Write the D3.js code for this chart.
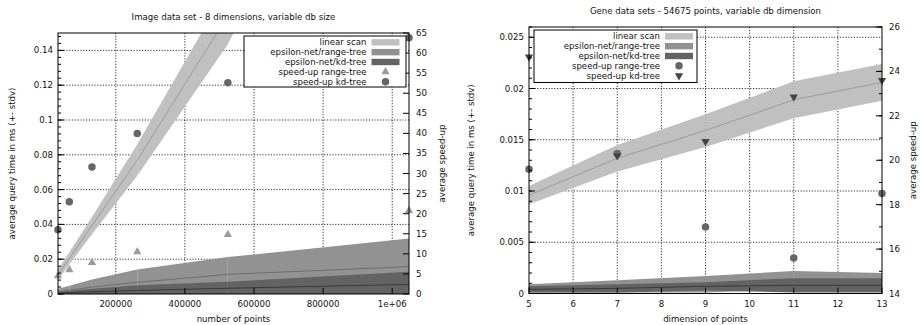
<!DOCTYPE html>
<html>
<head>
<meta charset="utf-8">
<script src="https://cdn.jsdelivr.net/npm/d3@7"></script>
<style>
  body { margin: 0; background: #fff; }
  text { font-family: "DejaVu Sans", sans-serif; fill: #111; }
</style>
</head>
<body>
<script>
// ---- left chart: image data set, variable db size ----
var imgSizes       = [32768, 65536, 131072, 262144, 524288, 1048576];
var imgLinearMean  = [0.011, 0.0205, 0.0393, 0.077, 0.16, 0.38];
var imgLinearStd   = [0.003, 0.0035, 0.005, 0.009, 0.0164, 0.03];
var imgRangeMean   = [0.0012, 0.0022, 0.0040, 0.0067, 0.0113, 0.0157];
var imgRangeStd    = [0.0018, 0.0026, 0.0044, 0.0074, 0.0099, 0.0162];
var imgKdMean      = [0.0005, 0.0008, 0.0013, 0.0020, 0.0033, 0.0055];
var imgKdStd       = [0.0007, 0.0010, 0.0017, 0.0030, 0.0037, 0.0073];
var imgSpeedRange  = [4.5, 6.0, 7.8, 10.5, 14.8, 20.8];
var imgSpeedKd     = [16.0, 23.0, 31.6, 40.0, 52.6, 63.8];
var imgXTicks      = [200000, 400000, 600000, 800000, 1000000];
var imgXTickLabels = ["200000", "400000", "600000", "800000", "1e+06"];

// ---- right chart: gene data sets, variable dimension ----
var geneDims       = [5, 7, 9, 11, 13];
var geneLinearMean = [0.0096, 0.0132, 0.0159, 0.0189, 0.0206];
var geneLinearStd  = [0.0009, 0.0013, 0.0016, 0.0018, 0.0018];
var geneRangeMean  = [0.0005, 0.0007, 0.0009, 0.0013, 0.0013];
var geneRangeStd   = [0.0004, 0.0006, 0.0008, 0.0009, 0.0007];
var geneKdMean     = [0.0004, 0.0005, 0.0007, 0.0008, 0.0008];
var geneKdStd      = [0.0003, 0.0004, 0.0004, 0.0007, 0.0007];
var geneSpeedRange = [19.6, 20.3, 17.0, 15.6, 18.5];
var geneSpeedKd    = [24.65, 20.2, 20.85, 22.85, 23.6];

var legendNames = ["linear scan", "epsilon-net/range-tree", "epsilon-net/kd-tree",
                   "speed-up range-tree", "speed-up kd-tree"];

var FS = 8.6;
var svg = d3.select("body").append("svg").attr("width", 921).attr("height", 325);

function fmtY(d) { return d === 0 ? "0" : String(+d.toFixed(4)); }

function drawChart(c) {
  var x = d3.scaleLinear().domain(c.xDomain).range([c.left, c.right]);
  var y = d3.scaleLinear().domain(c.yDomain).range([c.bottom, c.top]);
  var y2 = d3.scaleLinear().domain(c.y2Domain).range([c.bottom, c.top]);
  var g = svg.append("g");

  g.append("clipPath").attr("id", "clip" + c.id)
    .append("rect").attr("x", c.left).attr("y", c.top)
    .attr("width", c.right - c.left).attr("height", c.bottom - c.top);

  // grid
  var grid = g.append("g").attr("stroke", "#000").attr("stroke-width", 0.8)
    .attr("stroke-dasharray", "1.2,1.6");
  c.xGrid.forEach(function(v) {
    grid.append("line").attr("x1", x(v)).attr("x2", x(v)).attr("y1", c.top).attr("y2", c.bottom);
  });
  c.yTicks.forEach(function(v) {
    if (v <= c.yDomain[0]) return;
    grid.append("line").attr("x1", c.left).attr("x2", c.right).attr("y1", y(v)).attr("y2", y(v));
  });

  // bands (drawn per segment, like the original fill)
  var plot = g.append("g").attr("clip-path", "url(#clip" + c.id + ")");
  c.bands.forEach(function(b) {
    var pts = c.xs.map(function(xv, i) {
      return { x: xv, lo: Math.max(0, b.mean[i] - b.std[i]), hi: b.mean[i] + b.std[i], m: b.mean[i] };
    });
    var area = d3.area().x(function(d) { return x(d.x); })
      .y0(function(d) { return y(d.lo); }).y1(function(d) { return y(d.hi); });
    for (var i = 0; i < pts.length - 1; i++) {
      plot.append("path").attr("d", area([pts[i], pts[i + 1]])).attr("fill", b.fill);
    }
    plot.append("path")
      .attr("d", d3.line().x(function(d) { return x(d.x); }).y(function(d) { return y(d.m); })(pts))
      .attr("fill", "none").attr("stroke", b.line).attr("stroke-width", 1);
  });

  // speed-up markers on y2
  c.markers.forEach(function(m) {
    var sym = d3.symbol().type(m.shape === "circle" ? d3.symbolCircle : d3.symbolTriangle)
      .size(m.shape === "circle" ? 44 : 30);
    c.xs.forEach(function(xv, i) {
      var rot = m.down ? " rotate(180)" : "";
      g.append("path").attr("d", sym())
        .attr("transform", "translate(" + x(xv) + "," + y2(m.values[i]) + ")" + rot)
        .attr("fill", m.fill);
    });
  });

  // frame
  g.append("rect").attr("x", c.left).attr("y", c.top)
    .attr("width", c.right - c.left).attr("height", c.bottom - c.top)
    .attr("fill", "none").attr("stroke", "#000").attr("stroke-width", 1);

  // ticks
  var tk = g.append("g").attr("stroke", "#000").attr("stroke-width", 1);
  c.yMinor.forEach(function(v) {
    tk.append("line").attr("x1", c.left).attr("x2", c.left + 3).attr("y1", y(v)).attr("y2", y(v));
  });
  c.yTicks.forEach(function(v) {
    tk.append("line").attr("x1", c.left).attr("x2", c.left + 6).attr("y1", y(v)).attr("y2", y(v));
    g.append("text").attr("x", c.left - 5).attr("y", y(v) + 3).attr("text-anchor", "end")
      .attr("font-size", FS).text(fmtY(v));
  });
  c.y2Minor.forEach(function(v) {
    tk.append("line").attr("x1", c.right).attr("x2", c.right - 3).attr("y1", y2(v)).attr("y2", y2(v));
  });
  c.y2Ticks.forEach(function(v) {
    tk.append("line").attr("x1", c.right).attr("x2", c.right - 6).attr("y1", y2(v)).attr("y2", y2(v));
    g.append("text").attr("x", c.right + 7).attr("y", y2(v) + 3).attr("font-size", FS).text(v);
  });
  c.xTicks.forEach(function(v, i) {
    tk.append("line").attr("x1", x(v)).attr("x2", x(v)).attr("y1", c.bottom).attr("y2", c.bottom - 6);
    g.append("text").attr("x", x(v)).attr("y", c.bottom + 13).attr("text-anchor", "middle")
      .attr("font-size", FS).text(c.xTickLabels[i]);
  });

  // titles and axis labels
  var cx = (c.left + c.right) / 2, cy = (c.top + c.bottom) / 2;
  g.append("text").attr("x", cx).attr("y", c.top - 13).attr("text-anchor", "middle")
    .attr("font-size", FS).text(c.title);
  g.append("text").attr("x", cx).attr("y", c.bottom + 28).attr("text-anchor", "middle")
    .attr("font-size", FS).text(c.xLabel);
  g.append("text").attr("transform", "translate(" + c.yLabelX + "," + cy + ") rotate(-90)")
    .attr("text-anchor", "middle").attr("font-size", FS).text("average query time in ms (+- stdv)");
  g.append("text").attr("transform", "translate(" + c.y2LabelX + "," + cy + ") rotate(-90)")
    .attr("text-anchor", "middle").attr("font-size", FS).text("average speed-up");

  // legend
  var L = c.legend;
  g.append("rect").attr("x", L.x0).attr("y", L.y0).attr("width", L.x1 - L.x0).attr("height", L.y1 - L.y0)
    .attr("fill", "#fff").attr("stroke", "#000").attr("stroke-width", 1);
  legendNames.forEach(function(name, i) {
    var ry = L.y0 + 6.3 + i * 9.85;
    g.append("text").attr("x", L.textX).attr("y", ry + 3).attr("text-anchor", "end")
      .attr("font-size", FS).text(name);
    if (i < 3) {
      g.append("rect").attr("x", L.textX + 5).attr("y", ry - 3.2).attr("width", 28).attr("height", 6.4)
        .attr("fill", c.bands[i].fill);
    } else {
      var m = c.markers[i - 3];
      var sym = d3.symbol().type(m.shape === "circle" ? d3.symbolCircle : d3.symbolTriangle)
        .size(m.shape === "circle" ? 44 : 30);
      g.append("path").attr("d", sym())
        .attr("transform", "translate(" + (L.textX + 19) + "," + ry + ")" + (m.down ? " rotate(180)" : ""))
        .attr("fill", m.fill);
    }
  });
}

function range(a, b, s) { return d3.range(a, b + s / 2, s).map(function(v) { return +v.toFixed(6); }); }

drawChart({
  id: "L", left: 58, right: 409, top: 33, bottom: 294,
  xDomain: [32768, 1048576], yDomain: [0, 0.15], y2Domain: [0, 65],
  xs: imgSizes,
  xTicks: imgXTicks, xTickLabels: imgXTickLabels, xGrid: imgXTicks,
  yTicks: range(0, 0.14, 0.02), yMinor: range(0, 0.148, 0.004),
  y2Ticks: range(0, 65, 5), y2Minor: [],
  bands: [
    { mean: imgLinearMean, std: imgLinearStd, fill: "#c0c0c0", line: "#9a9a9a" },
    { mean: imgRangeMean, std: imgRangeStd, fill: "#929292", line: "#6e6e6e" },
    { mean: imgKdMean, std: imgKdStd, fill: "#636363", line: "#3a3a3a" }
  ],
  markers: [
    { values: imgSpeedRange, shape: "triangle", fill: "#9c9c9c" },
    { values: imgSpeedKd, shape: "circle", fill: "#666666" }
  ],
  title: "Image data set - 8 dimensions, variable db size",
  xLabel: "number of points", yLabelX: 15, y2LabelX: 445,
  legend: { x0: 244, x1: 406, y0: 36, y1: 87, textX: 366.5 }
});

drawChart({
  id: "R", left: 529, right: 882, top: 27, bottom: 293.5,
  xDomain: [5, 13], yDomain: [0, 0.026], y2Domain: [14, 26],
  xs: geneDims,
  xTicks: range(5, 13, 1), xTickLabels: range(5, 13, 1).map(String), xGrid: range(6, 12, 1),
  yTicks: range(0, 0.025, 0.005), yMinor: range(0, 0.026, 0.001),
  y2Ticks: range(14, 26, 2), y2Minor: range(14, 26, 1),
  bands: [
    { mean: geneLinearMean, std: geneLinearStd, fill: "#c0c0c0", line: "#9a9a9a" },
    { mean: geneRangeMean, std: geneRangeStd, fill: "#929292", line: "#6e6e6e" },
    { mean: geneKdMean, std: geneKdStd, fill: "#636363", line: "#3a3a3a" }
  ],
  markers: [
    { values: geneSpeedRange, shape: "circle", fill: "#666666" },
    { values: geneSpeedKd, shape: "triangle", fill: "#444444", down: true }
  ],
  title: "Gene data sets - 54675 points, variable db dimension",
  xLabel: "dimension of points", yLabelX: 474, y2LabelX: 916,
  legend: { x0: 534, x1: 697, y0: 30, y1: 82.5, textX: 660 }
});
</script>
</body>
</html>
